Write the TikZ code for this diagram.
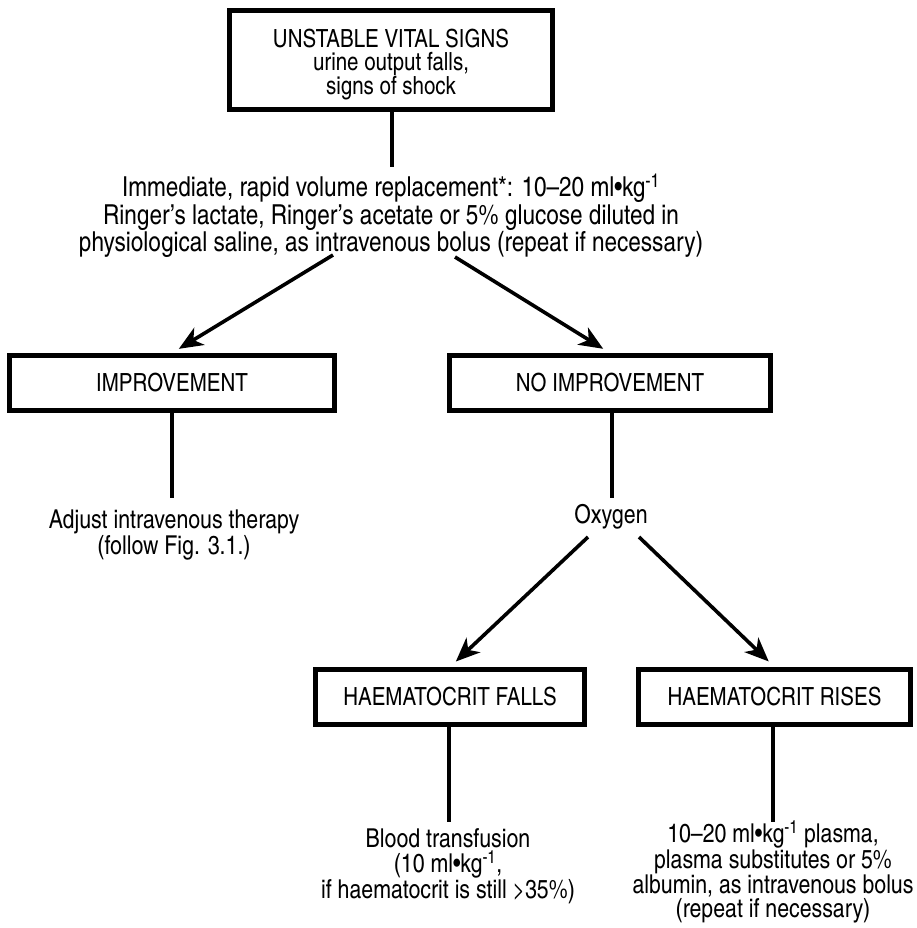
\documentclass[tikz,border=0pt]{standalone}
\usepackage{fontspec}
\setmainfont{texgyreheroscn-regular.otf}
\usetikzlibrary{arrows.meta}

\tikzset{
  box/.style={draw, line width=5pt, inner sep=0pt, align=center, minimum height=55pt,
    font=\fontsize{25}{23}\selectfont},
  txt/.style={align=center, inner sep=0pt, font=\fontsize{26}{24}\selectfont},
  link/.style={line width=3.2pt},
  arr/.style={line width=3.6pt, shorten >=8pt, -{Stealth[length=24pt,width=20pt,inset=7pt]}},
}
\newcommand{\perkg}{ml\textbullet kg\textsuperscript{-1}}

\begin{document}
\begin{tikzpicture}[x=1pt,y=-1pt]
\useasboundingbox (0,0) rectangle (917,928);
% boxes
\node[box, minimum width=323pt, minimum height=99pt] (unstable) at (391,60) {\rule{0pt}{28pt}UNSTABLE VITAL SIGNS\\urine output falls,\\signs of shock};
\node[box, minimum width=325pt] (impr) at (172,383) {IMPROVEMENT};
\node[box, minimum width=321pt] (noimpr) at (610,383) {NO IMPROVEMENT};
\node[box, minimum width=269pt] (hfall) at (450,697) {HAEMATOCRIT FALLS};
\node[box, minimum width=272pt] (hrise) at (774.5,697) {HAEMATOCRIT RISES};
% texts
\node[txt, font=\fontsize{27.5}{27.5}\selectfont] (replace) at (391,216) {Immediate, rapid volume replacement*: 10--20 \perkg\\Ringer's lactate, Ringer's acetate or 5\% glucose diluted in\\physiological saline, as intravenous bolus (repeat if necessary)};
\node[txt] (adjust) at (174,535) {Adjust intravenous therapy\\(follow Fig. 3.1.)};
\node[txt] (oxygen) at (611,517) {Oxygen};
\node[txt, font=\fontsize{26}{25.5}\selectfont] (blood) at (448,866) {Blood transfusion\\(10 \perkg,\\if haematocrit is still >35\%)};
\node[txt] (plasma) at (773,872) {10--20 \perkg{} plasma,\\plasma substitutes or 5\%\\albumin, as intravenous bolus\\(repeat if necessary)};
% free ends
\coordinate (c1) at (392,167);
\coordinate (c2) at (172,498);
\coordinate (c3) at (612,498);
\coordinate (c4) at (449,822);
\coordinate (c5) at (773,822);
\coordinate (a1) at (333,255);
\coordinate (a2) at (455,257);
\coordinate (o1) at (588,537);
\coordinate (o2) at (639,537);
% connectors
\draw[link] (c1 |- unstable.south) -- (c1);
\draw[link] (impr.south) -- (c2);
\draw[link] (c3 |- noimpr.south) -- (c3);
\draw[link] (c4 |- hfall.south) -- (c4);
\draw[link] (c5 |- hrise.south) -- (c5);
\draw[arr] (a1) -- (impr.north);
\draw[arr] (a2) -- (noimpr.north);
\draw[arr] (o1) -- (hfall.north);
\draw[arr] (o2) -- (hrise.north);
\end{tikzpicture}
\end{document}
